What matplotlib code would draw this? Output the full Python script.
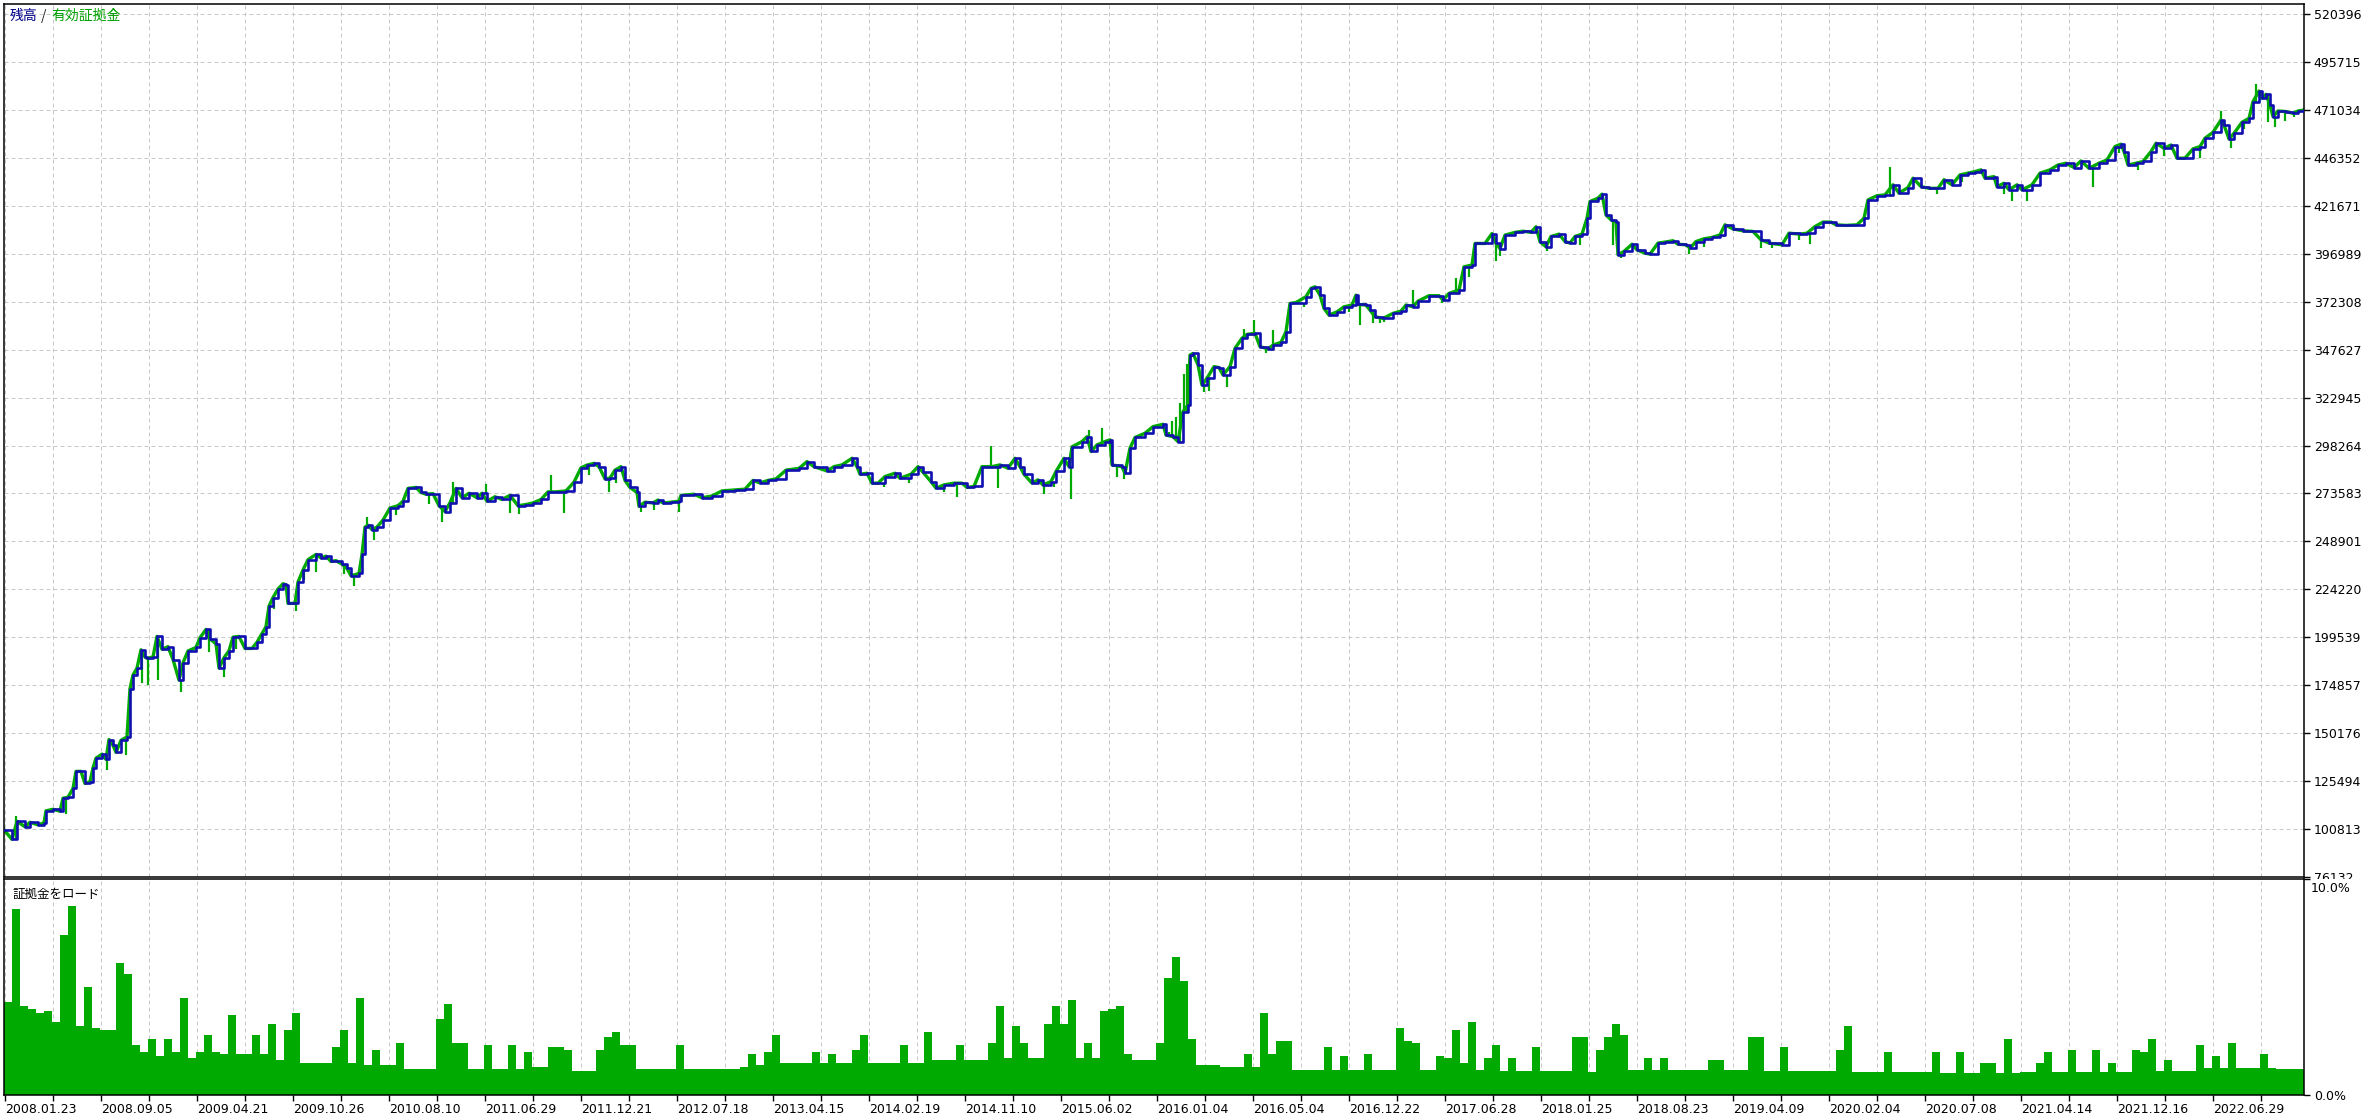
import numpy as np
import matplotlib.pyplot as plt
from matplotlib.patches import Rectangle

# ========= Daten =========
# x = Position im Chart (Trade-Achse, 0..2300), Werte in Tausend
bal_x = [0, 8, 13, 21, 26, 34, 40, 42, 49, 56, 59, 64, 69, 72, 77, 81, 86, 89, 92, 98,
         102, 105, 109, 112, 117, 123, 126, 129, 133, 137, 141, 143, 149, 153, 158, 164, 169, 175, 179, 184,
         192, 196, 202, 206, 212, 215, 220, 225, 229, 235, 241, 248, 253, 258, 262, 265, 269, 274, 279, 282,
         284, 291, 294, 299, 304, 312, 317, 322, 327, 332, 338, 343, 347, 355, 358, 361, 364, 368, 373, 379,
         386, 394, 399, 404, 412, 417, 422, 429, 435, 441, 446, 452, 458, 465, 473, 478, 483, 491, 498, 506,
         514, 521, 529, 537, 544, 552, 562, 570, 577, 583, 590, 595, 601, 606, 611, 617, 621, 626, 633, 635,
         641, 649, 654, 659, 667, 675, 677, 690, 698, 708, 718, 731, 741, 749, 756, 764, 772, 782, 795, 803,
         810, 823, 830, 838, 848, 853, 856, 863, 868, 874, 881, 891, 896, 907, 914, 919, 927, 932, 940, 950,
         958, 963, 970, 978, 988, 996, 1004, 1011, 1016, 1020, 1028, 1034, 1039, 1047, 1052, 1060, 1065, 1068, 1078, 1083,
         1087, 1093, 1101, 1106, 1108, 1118, 1121, 1126, 1131, 1141, 1149, 1159, 1162, 1169, 1174, 1179, 1184, 1186, 1189, 1194,
         1198, 1203, 1210, 1215, 1219, 1226, 1231, 1238, 1243, 1251, 1256, 1264, 1269, 1277, 1282, 1286, 1292, 1302, 1307, 1311,
         1316, 1320, 1325, 1333, 1340, 1348, 1352, 1354, 1362, 1366, 1371, 1379, 1389, 1397, 1402, 1409, 1414, 1425, 1435, 1439,
         1445, 1455, 1460, 1468, 1471, 1481, 1488, 1492, 1496, 1501, 1511, 1519, 1527, 1532, 1536, 1542, 1547, 1555, 1561, 1566,
         1571, 1578, 1583, 1586, 1594, 1598, 1602, 1607, 1612, 1614, 1620, 1628, 1633, 1641, 1646, 1654, 1661, 1669, 1674, 1682,
         1686, 1692, 1700, 1708, 1716, 1721, 1729, 1739, 1749, 1757, 1765, 1778, 1785, 1796, 1803, 1811, 1819, 1827, 1832, 1842,
         1853, 1860, 1864, 1873, 1881, 1889, 1895, 1904, 1909, 1917, 1925, 1934, 1940, 1948, 1956, 1964, 1971, 1977, 1981, 1990,
         1993, 2000, 2005, 2013, 2018, 2028, 2036, 2046, 2054, 2062, 2070, 2077, 2085, 2095, 2103, 2111, 2117, 2120, 2124, 2132,
         2139, 2147, 2152, 2160, 2167, 2173, 2181, 2189, 2196, 2201, 2209, 2217, 2220, 2225, 2230, 2238, 2245, 2249, 2255, 2258,
         2262, 2266, 2269, 2274, 2282, 2289, 2294, 2300]

balance_k = [100.4, 95.5, 104.8, 102.0, 104.3, 103.0, 104.0, 110.2, 111.0, 110.0, 116.7, 117.2, 121.7, 130.5, 130.5, 124.3, 125.2, 132.3, 137.3, 139.4,
             136.7, 146.9, 143.9, 140.3, 146.5, 148.3, 173.1, 180.1, 183.7, 193.1, 189.4, 188.7, 189.4, 200.0, 193.4, 194.7, 188.1, 177.5, 186.4, 192.5,
             194.3, 199.3, 203.6, 198.8, 196.1, 183.7, 189.0, 192.6, 199.6, 200.0, 193.8, 193.8, 197.0, 201.4, 205.0, 215.6, 220.0, 224.4, 227.1, 226.6,
             217.0, 217.0, 228.0, 234.2, 239.5, 242.2, 240.4, 241.3, 238.6, 239.0, 237.2, 235.0, 231.2, 232.4, 242.2, 256.3, 257.2, 255.0, 256.3, 259.9,
             266.1, 267.3, 269.6, 276.2, 276.7, 274.1, 273.2, 273.5, 267.3, 264.3, 268.8, 276.2, 271.4, 273.7, 271.4, 273.7, 269.6, 271.9, 270.5, 272.6,
             267.3, 267.8, 268.7, 270.5, 274.4, 274.4, 274.9, 279.4, 286.8, 288.2, 289.1, 287.4, 281.1, 281.5, 285.6, 287.4, 280.3, 276.7, 274.1, 267.0,
             269.1, 268.7, 270.2, 268.7, 269.1, 269.6, 272.6, 273.2, 271.4, 272.3, 274.9, 275.4, 275.8, 280.3, 279.0, 280.3, 281.1, 285.6, 286.5, 290.0,
             287.4, 285.2, 287.4, 288.3, 291.7, 287.4, 283.5, 284.0, 278.9, 278.9, 282.3, 284.0, 281.4, 283.5, 287.4, 284.5, 279.7, 276.3, 278.0, 278.9,
             278.9, 276.7, 277.2, 287.4, 287.4, 288.3, 286.6, 291.7, 287.4, 283.5, 278.9, 280.6, 278.0, 279.7, 284.9, 291.7, 287.4, 297.6, 300.3, 302.8,
             295.2, 298.6, 300.3, 301.2, 288.3, 287.4, 284.0, 296.9, 302.4, 304.6, 308.0, 309.2, 303.7, 302.8, 300.3, 315.7, 319.2, 344.8, 345.7, 339.8,
             329.4, 332.9, 338.9, 338.4, 334.6, 338.9, 348.3, 353.5, 355.5, 356.0, 349.2, 348.0, 350.0, 351.4, 356.9, 371.4, 371.9, 374.9, 379.2, 380.0,
             375.7, 368.9, 365.4, 367.1, 369.7, 370.6, 375.7, 370.9, 370.6, 368.0, 364.6, 363.7, 366.3, 367.5, 370.6, 369.7, 372.6, 375.4, 375.4, 373.2,
             376.6, 378.3, 390.3, 391.2, 402.3, 402.3, 407.4, 402.3, 399.7, 406.6, 408.0, 408.6, 408.0, 410.9, 403.2, 400.6, 405.9, 407.1, 403.3, 402.5,
             405.9, 407.1, 415.3, 423.9, 425.6, 427.7, 417.0, 414.5, 413.3, 396.5, 398.2, 401.9, 399.0, 397.3, 396.8, 402.5, 403.0, 403.7, 401.9, 401.6,
             399.9, 403.3, 404.7, 405.4, 406.7, 411.9, 409.8, 408.8, 408.5, 404.2, 402.5, 401.6, 407.6, 407.1, 407.6, 411.0, 413.3, 413.3, 411.9, 411.6,
             411.9, 415.3, 424.7, 426.9, 427.3, 432.5, 428.2, 431.1, 435.9, 431.6, 430.7, 430.7, 435.1, 432.5, 437.6, 438.5, 439.3, 440.2, 435.9, 436.7,
             431.6, 433.3, 429.9, 432.5, 429.9, 432.5, 438.5, 440.2, 442.7, 443.6, 441.4, 444.8, 441.0, 443.6, 445.3, 452.2, 453.4, 449.6, 442.7, 443.6,
             444.5, 449.6, 453.9, 451.3, 453.0, 446.2, 446.2, 451.0, 452.2, 456.5, 459.5, 465.9, 463.3, 456.1, 459.0, 464.7, 466.7, 475.3, 480.8, 477.0,
             479.1, 473.6, 467.6, 470.5, 470.2, 469.3, 470.5, 471.0]

# Ausreisser des Equity (grüne Spitzen)
eq_x = [12, 62, 103, 122, 138, 144, 154, 177, 205, 220, 232, 270, 292, 300, 312, 340, 350, 363, 370, 392,
        425, 438, 449, 482, 506, 515, 547, 560, 585, 605, 612, 637, 650, 675, 880, 905, 940, 953, 987, 994,
        1040, 1050, 1067, 1085, 1098, 1113, 1120, 1165, 1168, 1172, 1176, 1180, 1183, 1200, 1205, 1223, 1240, 1250, 1262, 1269,
        1300, 1345, 1356, 1369, 1376, 1380, 1409, 1438, 1452, 1465, 1492, 1496, 1543, 1576, 1609, 1617, 1685, 1700, 1720, 1757,
        1768, 1795, 1806, 1886, 1900, 1933, 1958, 2000, 2008, 2023, 2089, 2115, 2134, 2160, 2196, 2217, 2227, 2240, 2252, 2264,
        2271, 2281, 2290]
eq_k = [107.5, 108.5, 131.4, 139.0, 175.8, 174.8, 177.5, 171.3, 192.0, 179.3, 193.5, 214.0, 212.9, 229.0, 233.3, 232.0, 226.2, 261.7, 249.6, 262.5,
        268.0, 259.0, 279.4, 278.6, 263.4, 262.8, 282.9, 263.4, 283.0, 274.4, 279.0, 264.3, 264.9, 264.3, 277.0, 279.0, 274.5, 272.0, 297.8, 276.3,
        273.5, 277.0, 270.7, 306.3, 307.2, 282.3, 281.0, 305.0, 311.0, 313.0, 320.0, 335.0, 340.0, 325.6, 326.5, 328.2, 358.5, 363.0, 346.0, 357.7,
        369.5, 367.0, 360.3, 361.2, 361.5, 362.0, 378.3, 371.5, 384.3, 385.1, 393.2, 395.6, 398.2, 401.6, 401.6, 394.8, 396.8, 400.5, 405.5, 399.9,
        400.2, 404.0, 401.9, 441.9, 428.0, 427.7, 433.8, 428.0, 423.9, 424.3, 431.6, 449.0, 440.2, 447.5, 446.2, 470.5, 451.3, 461.0, 484.2, 465.0,
        462.5, 465.5, 467.5]

# Margin load in %, je Zeile 12 Balken (eine Zeile = ein Datumsabschnitt)
margin_pct = [
    4.3, 8.6, 4.1, 4.0, 3.8, 3.9, 3.4, 7.4, 8.75, 3.2, 5.0, 3.1,
    3.0, 3.0, 6.1, 5.6, 2.3, 2.0, 2.6, 1.8, 2.6, 2.0, 4.5, 1.7,
    2.0, 2.8, 2.0, 1.9, 3.7, 1.9, 1.9, 2.8, 1.9, 3.3, 1.6, 3.0,
    3.8, 1.5, 1.5, 1.5, 1.5, 2.2, 3.0, 1.5, 4.5, 1.4, 2.1, 1.4,
    1.4, 2.4, 1.2, 1.2, 1.2, 1.2, 3.5, 4.2, 2.4, 2.4, 1.2, 1.2,
    2.3, 1.2, 1.2, 2.3, 1.2, 2.0, 1.3, 1.3, 2.2, 2.2, 2.1, 1.1,
    1.1, 1.1, 2.1, 2.7, 2.9, 2.3, 2.3, 1.2, 1.2, 1.2, 1.2, 1.2,
    2.3, 1.2, 1.2, 1.2, 1.2, 1.2, 1.2, 1.2, 1.3, 1.9, 1.4, 2.0,
    2.8, 1.5, 1.5, 1.5, 1.5, 2.0, 1.5, 1.9, 1.5, 1.5, 2.1, 2.8,
    1.5, 1.5, 1.5, 1.5, 2.3, 1.5, 1.5, 2.9, 1.6, 1.6, 1.6, 2.3,
    1.6, 1.6, 1.6, 2.4, 4.1, 1.7, 3.2, 2.4, 1.7, 1.7, 3.3, 4.1,
    3.3, 4.4, 1.7, 2.4, 1.7, 3.9, 4.0, 4.1, 1.9, 1.6, 1.6, 1.6,
    2.4, 5.4, 6.4, 5.3, 2.6, 1.4, 1.4, 1.4, 1.3, 1.3, 1.3, 1.9,
    1.3, 3.8, 1.9, 2.5, 2.5, 1.15, 1.15, 1.15, 1.15, 2.2, 1.15, 1.8,
    1.15, 1.15, 1.9, 1.15, 1.15, 1.15, 3.1, 2.5, 2.4, 1.15, 1.15, 1.8,
    1.7, 3.0, 1.5, 3.4, 1.15, 1.7, 2.3, 1.1, 1.7, 1.1, 1.1, 2.2,
    1.1, 1.1, 1.1, 1.1, 2.7, 2.7, 1.05, 2.1, 2.7, 3.3, 2.8, 1.15,
    1.15, 1.7, 1.15, 1.7, 1.15, 1.15, 1.15, 1.15, 1.15, 1.6, 1.6, 1.15,
    1.15, 1.15, 2.7, 2.7, 1.1, 1.1, 2.2, 1.1, 1.1, 1.1, 1.1, 1.1,
    1.1, 2.1, 3.2, 1.05, 1.05, 1.05, 1.05, 2.0, 1.05, 1.05, 1.05, 1.05,
    1.05, 2.0, 1.0, 1.0, 2.0, 1.0, 1.0, 1.5, 1.5, 1.0, 2.6, 1.0,
    1.05, 1.05, 1.5, 2.0, 1.05, 1.05, 2.1, 1.05, 1.05, 2.1, 1.05, 1.5,
    1.05, 1.05, 2.1, 2.0, 2.6, 1.1, 1.6, 1.1, 1.1, 1.1, 2.3, 1.25,
    1.8, 1.25, 2.4, 1.25, 1.25, 1.25, 1.9, 1.25, 1.2, 1.2, 1.2, 1.2,
]

date_labels = ["2008.01.23", "2008.09.05", "2009.04.21", "2009.10.26", "2010.08.10", "2011.06.29",
               "2011.12.21", "2012.07.18", "2013.04.15", "2014.02.19", "2014.11.10", "2015.06.02",
               "2016.01.04", "2016.05.04", "2016.12.22", "2017.06.28", "2018.01.25", "2018.08.23",
               "2019.04.09", "2020.02.04", "2020.07.08", "2021.04.14", "2021.12.16", "2022.06.29"]

y_ticks = [76132, 100813, 125494, 150176, 174857, 199539, 224220, 248901, 273583, 298264,
           322945, 347627, 372308, 396989, 421671, 446352, 471034, 495715, 520396]

# ========= Farben / Layout =========
BLUE = "#1010b0"
GREEN = "#00aa00"
GRID = "#c8c8c8"
JP = ["Noto Sans CJK JP", "DejaVu Sans"]
W, H = 2369, 1118
x_max = 2300
tick_step = 96

bal_x = np.array(bal_x)
balance = np.array(balance_k) * 1000
eq_x = np.array(eq_x)
eq_v = np.array(eq_k) * 1000

fig = plt.figure(figsize=(W / 100, H / 100), dpi=100)
ax1 = fig.add_axes([4 / W, (H - 877) / H, 2300 / W, 873 / H])
ax2 = fig.add_axes([4 / W, (H - 1095) / H, 2300 / W, 216 / H])

label_pos = np.arange(len(date_labels)) * tick_step + 1
grid_pos = np.arange(2 * len(date_labels)) * (tick_step // 2) + 1

# ---- Balance / Equity ----
ax1.plot(bal_x, balance, color=GREEN, lw=2.4, zorder=2)
base = balance[np.searchsorted(bal_x, eq_x, side="right") - 1]
ax1.vlines(eq_x, base, eq_v, color=GREEN, lw=1.6, zorder=2)
ax1.plot(bal_x, balance, color=BLUE, lw=1.9, drawstyle="steps-post", zorder=3)

ax1.set_xlim(0, x_max)
ax1.set_ylim(y_ticks[0], y_ticks[-1] + 0.21 * (y_ticks[1] - y_ticks[0]))
ax1.set_yticks(y_ticks)
ax1.set_yticklabels([str(v) for v in y_ticks])
ax1.set_xticks(grid_pos)
ax1.tick_params(axis="x", length=0, labelbottom=False)
ax1.tick_params(axis="y", left=False, labelleft=False, right=True, labelright=True,
                length=4, width=1, pad=3, labelsize=9)
ax1.grid(True, color=GRID, lw=0.72, linestyle=(0, (4, 3)))
ax1.set_axisbelow(True)

# Legende oben links (zweifarbig)
fig.text(10 / W, 1 - 16 / H, "残高", color="#00008b", fontsize=10, family=JP, va="center")
fig.text(41 / W, 1 - 16 / H, "/", color="#202020", fontsize=10, family=JP, va="center")
fig.text(51 / W, 1 - 16 / H, "有効証拠金", color="#00a000", fontsize=10, family=JP, va="center")

# ---- Margin load ----
slot_x = np.arange(len(margin_pct)) * 8
ax2.bar(slot_x, margin_pct, width=8, align="edge", color=GREEN, linewidth=0, zorder=2)
ax2.set_xlim(0, x_max)
ax2.set_ylim(0, 10)
ax2.set_yticks([0, 10])
ax2.set_yticklabels(["0.0%", ""])
ax2.annotate("10.0%", xy=(1, 1), xycoords="axes fraction", xytext=(7, -3),
             textcoords="offset pixels", va="top", ha="left", fontsize=9)
ax2.tick_params(axis="y", left=False, labelleft=False, right=True, labelright=True,
                length=4, width=1, pad=3, labelsize=9)
ax2.set_xticks(label_pos)
ax2.set_xticklabels(date_labels, ha="left")
ax2.set_xticks(grid_pos, minor=True)
ax2.tick_params(axis="x", which="both", length=4, width=1, pad=2, labelsize=9)
ax2.grid(True, axis="x", which="both", color=GRID, lw=0.72, linestyle=(0, (4, 3)))
ax2.set_axisbelow(True)
ax2.text(9 / 2300, 0.93, "証拠金をロード", transform=ax2.transAxes, fontsize=9,
         family=JP, va="center")

for ax in (ax1, ax2):
    for sp in ax.spines.values():
        sp.set_linewidth(1.1)
        sp.set_color("black")

# unteres Label der oberen Skala wird vom unteren Panel abgeschnitten
ax1.set_zorder(0)
fig.add_artist(Rectangle((2305 / W, 0), 64 / W, 239 / H, transform=fig.transFigure,
                         facecolor="white", edgecolor="none", zorder=1))
ax2.set_zorder(2)

fig.savefig("out.png", dpi=100)
